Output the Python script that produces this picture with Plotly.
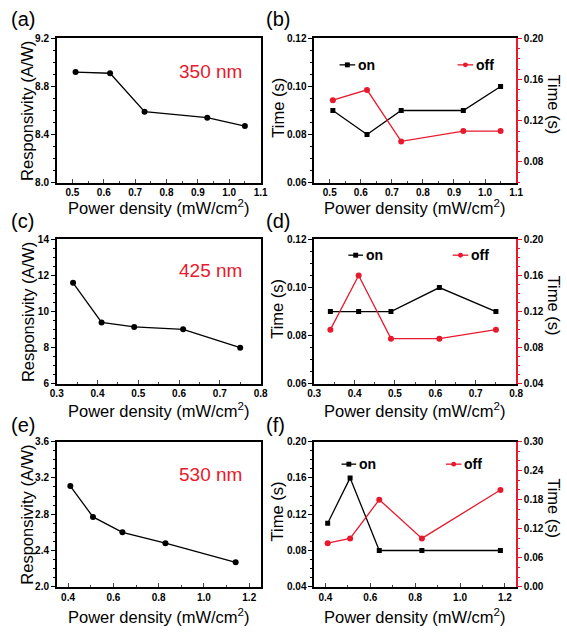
import plotly.graph_objects as go

W, H = 567, 634
RED = "#e8192c"
FONT = "Liberation Sans, Arial, sans-serif"

# ---------------- data ----------------
# 350 nm
a_power = [0.51, 0.62, 0.73, 0.93, 1.05]
a_resp = [8.92, 8.91, 8.59, 8.54, 8.47]
b_power = [0.51, 0.62, 0.73, 0.93, 1.05]
b_on = [0.09, 0.08, 0.09, 0.09, 0.10]
b_off = [0.14, 0.15, 0.10, 0.11, 0.11]
# 425 nm
c_power = [0.34, 0.41, 0.49, 0.61, 0.75]
c_resp = [11.6, 9.4, 9.15, 9.02, 8.0]
d_power = [0.34, 0.41, 0.49, 0.61, 0.75]
d_on = [0.09, 0.09, 0.09, 0.10, 0.09]
d_off = [0.10, 0.16, 0.09, 0.09, 0.10]
# 530 nm
e_power = [0.41, 0.51, 0.64, 0.83, 1.14]
e_resp = [3.11, 2.77, 2.60, 2.48, 2.27]
f_power = [0.41, 0.51, 0.64, 0.83, 1.18]
f_on = [0.11, 0.16, 0.08, 0.08, 0.08]
f_off = [0.09, 0.10, 0.18, 0.10, 0.20]

wavelengths = ["350 nm", "425 nm", "530 nm"]
panel_labels = ["(a)", "(b)", "(c)", "(d)", "(e)", "(f)"]

# ---------------- layout geometry (pixels) ----------------
LEFT = (51, 260)
RIGHT = (315, 522)
ROWS = [(33, 180), (238, 385), (444, 592)]


def px(x):
    return x / W


def py(y):
    return 1 - y / H


def xdom(c):
    return [px(c[0]), px(c[1])]


def ydom(r):
    return [py(r[1]), py(r[0])]


tickfont = dict(family=FONT, size=10, color="black", weight="bold")


def xaxis(col, row, anchor, rng, dtick, mdtick, fmt):
    return dict(domain=xdom(col), anchor=anchor, range=rng, tick0=0, dtick=dtick,
                tickformat=fmt, ticks="inside", ticklen=4, tickwidth=1,
                minor=dict(ticks="inside", ticklen=2, dtick=mdtick, tick0=0),
                showline=True, linecolor="black", linewidth=1.5, mirror=True,
                showgrid=False, zeroline=False, tickfont=tickfont)


def yaxis(row, anchor, rng, dtick, fmt, mirror=True, side="left", color="black",
          overlaying=None):
    d = dict(domain=ydom(row), anchor=anchor, range=rng, tick0=0, dtick=dtick,
             tickformat=fmt, ticks="outside", ticklen=4, tickwidth=1, tickcolor=color,
             minor=dict(ticks="outside", ticklen=2, tickcolor=color),
             showline=True, linecolor=color, linewidth=1.5, mirror=mirror,
             showgrid=False, zeroline=False, tickfont=tickfont, side=side)
    if overlaying:
        d["overlaying"] = overlaying
    return d


fig = go.Figure()

line_k = dict(color="black", width=1.3)
line_r = dict(color=RED, width=1.3)

# panel a, c, e (responsivity)
for xs, ys, xa, ya in [(a_power, a_resp, "x", "y"), (c_power, c_resp, "x3", "y4"),
                       (e_power, e_resp, "x5", "y7")]:
    fig.add_trace(go.Scatter(x=xs, y=ys, xaxis=xa, yaxis=ya, mode="lines+markers",
                             line=line_k, marker=dict(symbol="circle", size=6, color="black"),
                             showlegend=False))

# panel b, d, f (time)
for xs, on, off, xa, yl, yr in [(b_power, b_on, b_off, "x2", "y2", "y3"),
                                (d_power, d_on, d_off, "x4", "y5", "y6"),
                                (f_power, f_on, f_off, "x6", "y8", "y9")]:
    fig.add_trace(go.Scatter(x=xs, y=on, xaxis=xa, yaxis=yl, mode="lines+markers",
                             line=line_k, marker=dict(symbol="square", size=5, color="black"),
                             name="on", showlegend=False))
    fig.add_trace(go.Scatter(x=xs, y=off, xaxis=xa, yaxis=yr, mode="lines+markers",
                             line=line_r, marker=dict(symbol="circle", size=6, color=RED),
                             name="off", showlegend=False))

layout = dict(
    width=W, height=H, autosize=False,
    margin=dict(l=0, r=0, t=0, b=0),
    paper_bgcolor="white", plot_bgcolor="white",
    font=dict(family=FONT, color="black"),
    showlegend=False,
    # row 1
    xaxis=xaxis(LEFT, ROWS[0], "y", [0.45, 1.1], 0.1, 0.05, ".1f"),
    yaxis=yaxis(ROWS[0], "x", [8.0, 9.2], 0.4, ".1f"),
    xaxis2=xaxis(RIGHT, ROWS[0], "y2", [0.45, 1.1], 0.1, 0.05, ".1f"),
    yaxis2=yaxis(ROWS[0], "x2", [0.06, 0.12], 0.02, ".2f", mirror=False),
    yaxis3=yaxis(ROWS[0], "x2", [0.06, 0.20], 0.04, ".2f", mirror=False, side="right",
                 color=RED, overlaying="y2"),
    # row 2
    xaxis3=xaxis(LEFT, ROWS[1], "y4", [0.3, 0.8], 0.1, 0.05, ".1f"),
    yaxis4=yaxis(ROWS[1], "x3", [6, 14], 2, "d"),
    xaxis4=xaxis(RIGHT, ROWS[1], "y5", [0.3, 0.8], 0.1, 0.05, ".1f"),
    yaxis5=yaxis(ROWS[1], "x4", [0.06, 0.12], 0.02, ".2f", mirror=False),
    yaxis6=yaxis(ROWS[1], "x4", [0.04, 0.20], 0.04, ".2f", mirror=False, side="right",
                 color=RED, overlaying="y5"),
    # row 3
    xaxis5=xaxis(LEFT, ROWS[2], "y7", [0.35, 1.25], 0.2, 0.1, ".1f"),
    yaxis7=yaxis(ROWS[2], "x5", [2.0, 3.6], 0.4, ".1f"),
    xaxis6=xaxis(RIGHT, ROWS[2], "y8", [0.35, 1.25], 0.2, 0.1, ".1f"),
    yaxis8=yaxis(ROWS[2], "x6", [0.04, 0.20], 0.04, ".2f", mirror=False),
    yaxis9=yaxis(ROWS[2], "x6", [0.0, 0.30], 0.06, ".2f", mirror=False, side="right",
                 color=RED, overlaying="y8"),
)
fig.update_layout(**layout)

ann = []
shapes = []
title_font = dict(family=FONT, size=16.5, color="black")

xt_y = [205, 412, 622]
for i, r in enumerate(ROWS):
    mid_y = (r[0] + r[1]) / 2
    for col in (LEFT, RIGHT):
        ann.append(dict(text="Power density (mW/cm<sup>2</sup>)", xref="paper", yref="paper",
                        x=px((col[0] + col[1]) / 2), y=py(xt_y[i]), showarrow=False,
                        xanchor="center", yanchor="middle", font=title_font))
    ann.append(dict(text="Responsivity (A/W)", xref="paper", yref="paper", x=px(21),
                    y=py(mid_y), textangle=-90, showarrow=False, xanchor="center",
                    yanchor="middle", font=title_font))
    ann.append(dict(text="Time (s)", xref="paper", yref="paper", x=px(277),
                    y=py(mid_y - 3), textangle=-90, showarrow=False, xanchor="center",
                    yanchor="middle", font=title_font))
    ann.append(dict(text="Time (s)", xref="paper", yref="paper", x=px(561),
                    y=py(mid_y - 6), textangle=90, showarrow=False, xanchor="center",
                    yanchor="middle", font=title_font))
    ann.append(dict(text=wavelengths[i], xref="paper", yref="paper", x=px(209),
                    y=py([67, 270, 478][i]), showarrow=False, xanchor="center",
                    yanchor="middle", font=dict(family=FONT, size=19, color=RED)))
    # panel labels
    ann.append(dict(text=panel_labels[2 * i], xref="paper", yref="paper", x=px(2),
                    y=py([13, 219, 427][i]), showarrow=False, xanchor="left",
                    yanchor="middle", font=dict(family=FONT, size=20, color="black")))
    ann.append(dict(text=panel_labels[2 * i + 1], xref="paper", yref="paper", x=px(263),
                    y=py([13, 219, 427][i]), showarrow=False, xanchor="left",
                    yanchor="middle", font=dict(family=FONT, size=20, color="black")))

# in-plot legends (on / off)
legend_pos = [((341, 357), (462, 478), 60), ((350, 365), (457, 473), 254),
              ((343, 358), (450, 466), 467)]
for on_x, off_x, ly in legend_pos:
    for (x0, x1), color, sym, label in [(on_x, "black", "square", "on"),
                                        (off_x, RED, "circle", "off")]:
        shapes.append(dict(type="line", xref="paper", yref="paper", x0=px(x0), x1=px(x1),
                           y0=py(ly), y1=py(ly), line=dict(color=color, width=1.3)))
        cx = (x0 + x1) / 2
        s = 2.5
        shapes.append(dict(type="rect" if sym == "square" else "circle", xref="paper",
                           yref="paper", x0=px(cx - s), x1=px(cx + s), y0=py(ly + s),
                           y1=py(ly - s), fillcolor=color, line=dict(color=color, width=0)))
        ann.append(dict(text=label, xref="paper", yref="paper", x=px(x1 + 1), y=py(ly),
                        showarrow=False, xanchor="left", yanchor="middle",
                        font=dict(family=FONT, size=14, color="black", weight="bold")))

fig.update_layout(annotations=ann, shapes=shapes)
fig.write_html("out.html", config={"displayModeBar": False},
               post_script="document.body.style.margin='0';")
